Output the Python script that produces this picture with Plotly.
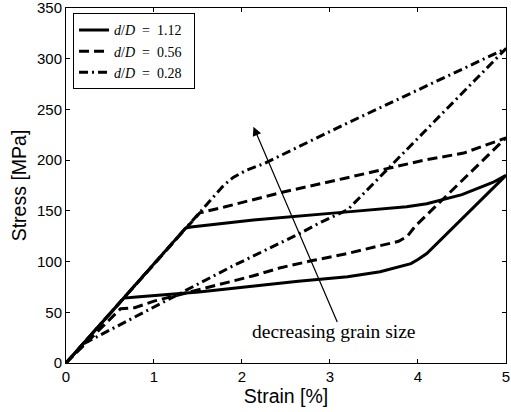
import plotly.graph_objects as go

# d/D = 1.12 (solid)
solid_strain = [0, 1.32, 1.36, 1.42, 1.85, 2.13, 3.2, 3.87, 4.1, 4.29, 4.5, 4.7, 4.85, 5.0,
                4.1, 4.0, 3.92, 3.57, 3.2, 2.64, 2.13, 1.51, 0.8, 0.72, 0.66, 0]
solid_stress = [0, 130, 133, 134, 138, 141, 149, 154, 157, 161, 166, 173, 178, 185,
                108, 102, 98, 90, 85, 80.5, 75.5, 70, 65, 64.5, 64, 0]

# d/D = 0.56 (dashed)
dashed_strain = [0, 1.52, 1.81, 2.44, 3.16, 4.07, 4.52, 5.0,
                 3.97, 3.88, 3.78, 3.2, 2.8, 2.44, 2.13, 1.6, 1.0, 0.78, 0.62, 0]
dashed_stress = [0, 148, 154, 168, 182, 200, 207, 222,
                 135, 125, 120, 108, 101, 94, 86, 74, 61, 54.5, 53.5, 0]

# d/D = 0.28 (dash-dot)
dashdot_strain = [0, 1.52, 1.79, 1.9, 2.05, 2.26, 2.75, 3.16, 5.0,
                  3.8, 3.2, 2.9, 2.64, 1.88, 1.3, 0.2, 0]
dashdot_stress = [0, 148, 175, 183, 190, 197, 218, 235, 310,
                  204, 151, 139, 127, 95, 69, 19, 0]

sp = "\u2002"
series_names = [f"<i>d</i>/<i>D</i>{sp}={sp}1.12{sp}",
                f"<i>d</i>/<i>D</i>{sp}={sp}0.56{sp}",
                f"<i>d</i>/<i>D</i>{sp}={sp}0.28{sp}"]
x_ticks = [0, 1, 2, 3, 4, 5]
y_ticks = [0, 50, 100, 150, 200, 250, 300, 350]

fig = go.Figure()
fig.add_trace(go.Scatter(x=solid_strain, y=solid_stress, mode="lines", name=series_names[0],
                         line=dict(color="black", width=3, dash="solid")))
fig.add_trace(go.Scatter(x=dashed_strain, y=dashed_stress, mode="lines", name=series_names[1],
                         line=dict(color="black", width=3, dash="10px,5px")))
fig.add_trace(go.Scatter(x=dashdot_strain, y=dashdot_stress, mode="lines", name=series_names[2],
                         line=dict(color="black", width=3, dash="9px,4px,2px,4px")))

axis_common = dict(showline=True, linecolor="black", linewidth=1, mirror="ticks",
                   ticks="inside", ticklen=4, tickcolor="black", showgrid=False,
                   zeroline=False, ticklabeloverflow="allow",
                   tickfont=dict(family="Liberation Sans", size=15, color="black"))

fig.update_xaxes(range=[0, 5.0005], tickvals=x_ticks, ticktext=[str(v) for v in x_ticks],
                 title=dict(text="Strain [%]", font=dict(family="Liberation Sans", size=19.5, color="black"),
                            standoff=5), **axis_common)
fig.update_yaxes(range=[0, 350.03], tickvals=y_ticks, ticktext=[str(v) for v in y_ticks],
                 title=dict(text="Stress [MPa]", font=dict(family="Liberation Sans", size=19.5, color="black"),
                            standoff=5), **axis_common)

fig.add_annotation(x=2.13, y=233, ax=3.09, ay=39, xref="x", yref="y", axref="x", ayref="y",
                   text="", showarrow=True, arrowhead=2, arrowsize=1.5, arrowwidth=1.2,
                   arrowcolor="black")
fig.add_annotation(x=3.05, y=31, xref="x", yref="y", text="decreasing grain size",
                   showarrow=False, font=dict(family="Liberation Serif", size=19.5, color="black"))

fig.update_layout(
    width=511, height=412,
    margin=dict(l=66, r=5, t=8, b=49, autoexpand=False),
    paper_bgcolor="white", plot_bgcolor="white",
    legend=dict(x=0.016, y=0.985, xanchor="left", yanchor="top",
                bordercolor="black", borderwidth=1, bgcolor="white",
                font=dict(family="Liberation Serif", size=14, color="black"),
                tracegroupgap=0, itemwidth=30),
    showlegend=True,
)

fig.write_html("out.html")
